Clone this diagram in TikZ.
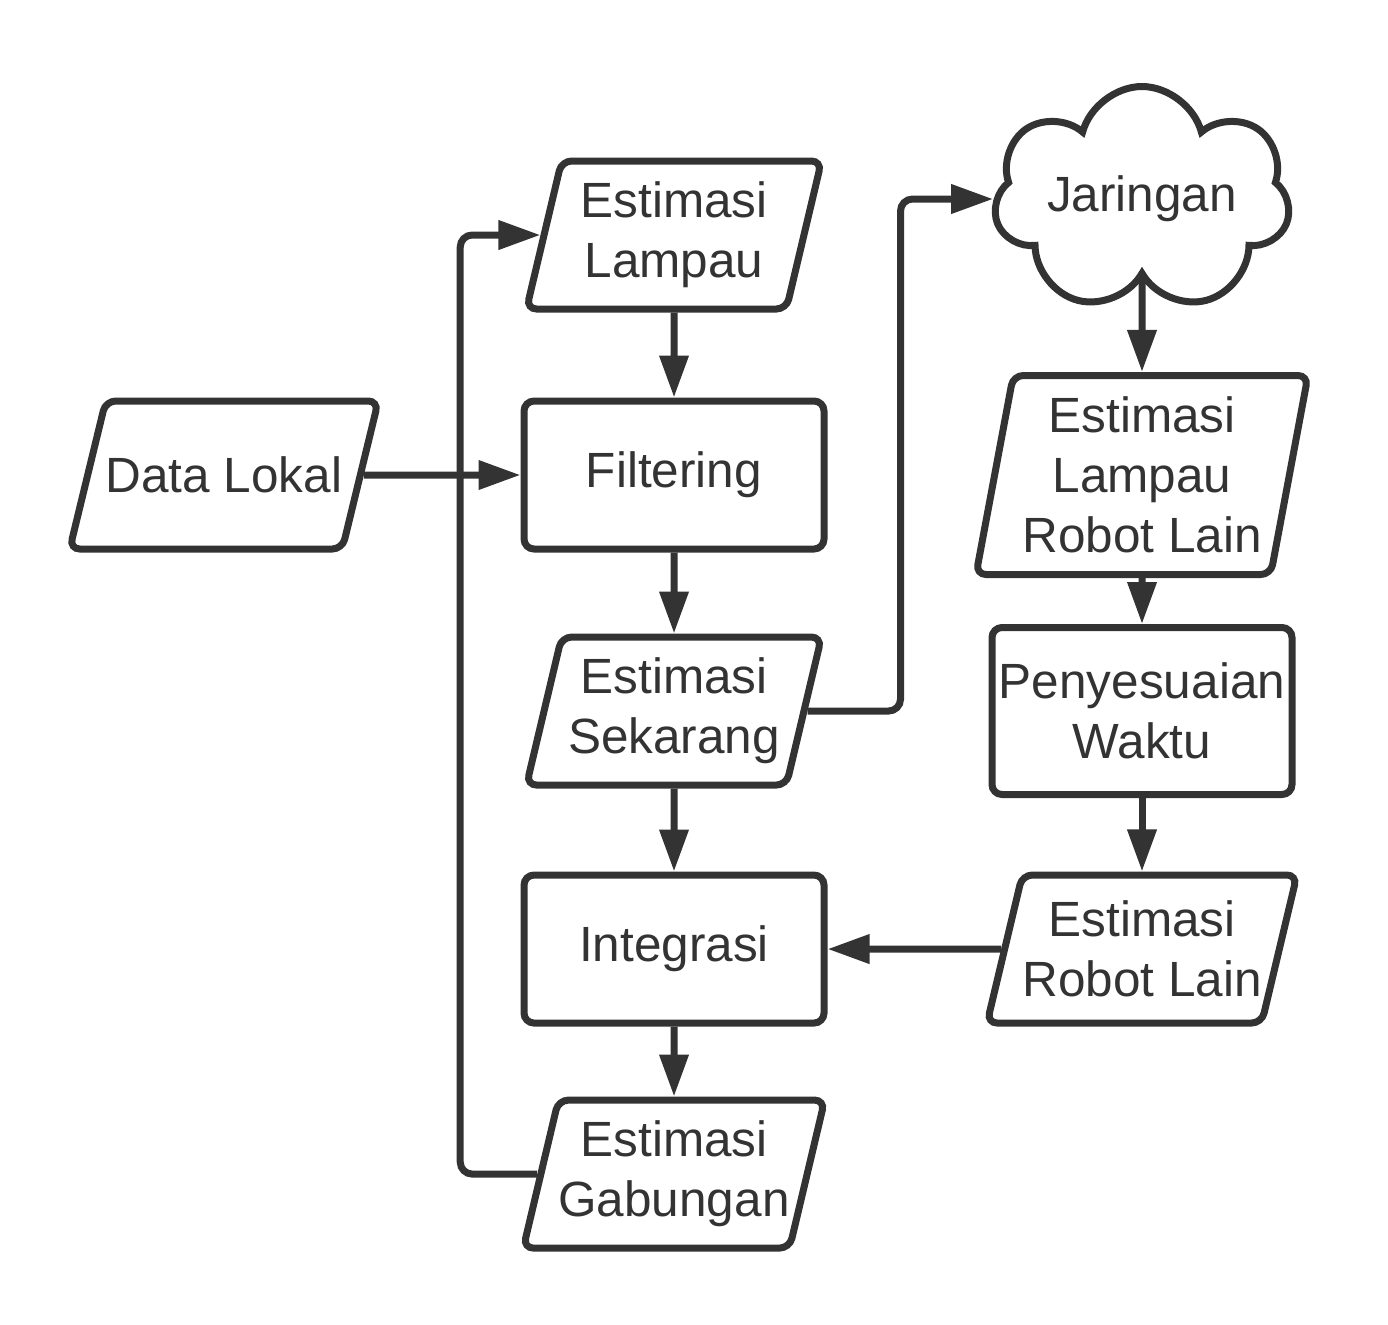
\documentclass[tikz,border=0pt]{standalone}
\usepackage{fontspec}
\setmainfont{Liberation Sans}
\usetikzlibrary{arrows.meta,positioning,shapes.geometric,shapes.symbols}
\definecolor{ink}{HTML}{333333}

\begin{document}
\begin{tikzpicture}[
    x=0.5pt, y=-0.5pt,
    every node/.style={font=\fontsize{24.75}{30}\selectfont, text=ink},
    proc/.style={draw=ink, line width=3.5pt, rounded corners=5pt, align=center, inner sep=0pt, minimum width=150pt, minimum height=74pt},
    data/.style={trapezium, trapezium left angle=#1, trapezium right angle=180-#1, trapezium stretches body, draw=ink, line width=3.5pt, rounded corners=5pt, align=center, inner sep=0pt, minimum width=147.5pt, minimum height=74pt},
    data/.default=71.7,
    net/.style={cloud, cloud puffs=7, cloud ignores aspect, draw=ink, line width=3.5pt, align=center, minimum width=148pt, minimum height=112.5pt},
    arrow/.style={-{Triangle[length=21pt,width=14pt]}, draw=ink, line width=3.5pt}
]
    \useasboundingbox (0,0) rectangle (1388,1324);

    % main column
    \node[data] (el) at (674,235) {Estimasi\\Lampau};
    \node[proc, below=42.5pt of el] (filt) {Filtering};
    \node[data, below=40.5pt of filt] (es) {Estimasi\\Sekarang};
    \node[proc, below=41.5pt of es] (integ) {Integrasi};
    \node[data, below=35pt of integ] (eg) {Estimasi\\Gabungan};
    \node[data=45.3] (dl) at (224,475) {Data Lokal};

    % other robots
    \node[net] (jar) at (1142,199) {Jaringan};
    \node[data=76.6, minimum width=166pt, minimum height=99.5pt] (elrl) at (1142,475) {Estimasi\\Lampau\\Robot Lain};
    \node[proc, minimum height=83.5pt] (pw) at (1142,711) {Penyesuaian\\Waktu};
    \node[data=69.9] (erl) at (1142,949) {Estimasi\\Robot Lain};

    \draw[arrow] (dl) -- (filt);
    \draw[arrow] (el) -- (filt);
    \draw[arrow] (filt) -- (es);
    \draw[arrow] (es) -- (integ);
    \draw[arrow] (integ) -- (eg);
    \draw[arrow, rounded corners=6pt] (eg.west) -- ++(-77,0) |- (el.west);
    \draw[arrow, rounded corners=6pt] (es.east) -- ++(93,0) |- (jar.west);
    \draw[arrow] (jar) -- (elrl);
    \draw[arrow] (elrl) -- (pw);
    \draw[arrow] (pw) -- (erl);
    \draw[arrow] (erl) -- (integ);
\end{tikzpicture}
\end{document}
